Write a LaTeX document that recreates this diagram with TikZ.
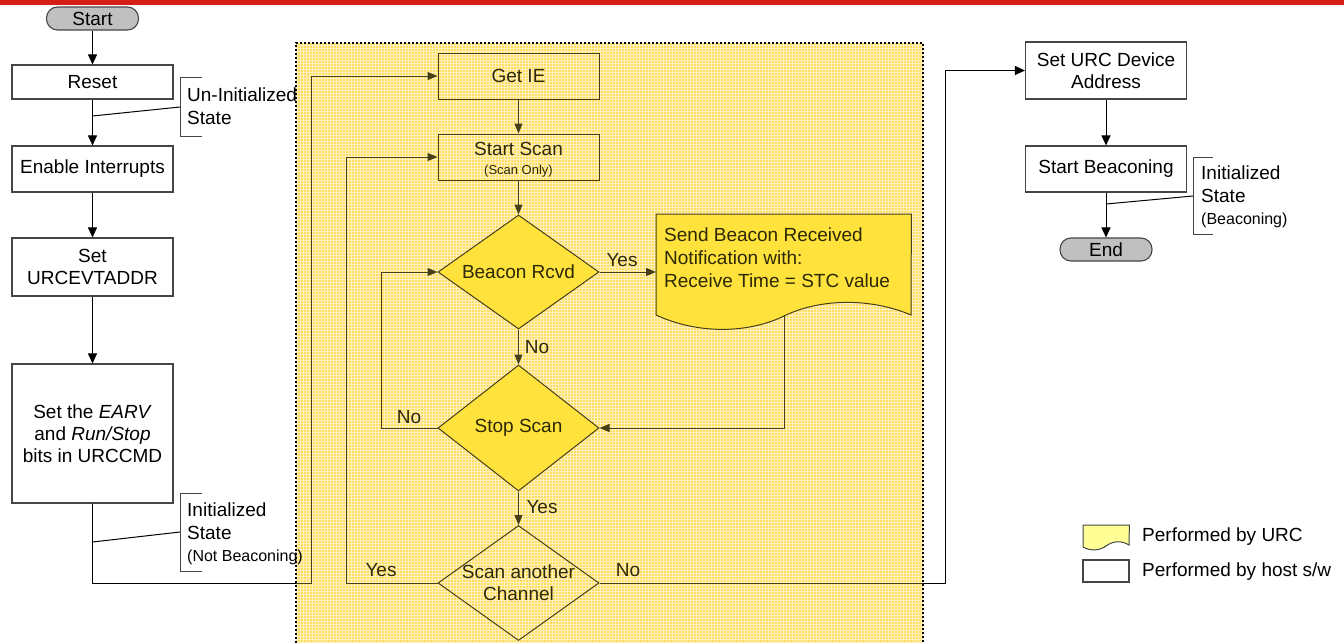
\documentclass[tikz,border=0pt]{standalone}
\usepackage{fontspec}
\setmainfont{Liberation Sans}
\usetikzlibrary{arrows.meta,shapes.geometric}
\definecolor{redbar}{RGB}{215,30,20}
\definecolor{bgyel}{RGB}{255,222,95}
\definecolor{diayel}{RGB}{255,226,60}
\definecolor{olive}{RGB}{70,62,20}
\definecolor{olivetext}{RGB}{45,40,5}
\definecolor{boxgray}{RGB}{70,70,70}
\definecolor{pillgray}{RGB}{192,192,192}
\definecolor{legyel}{RGB}{255,255,150}
\begin{document}
\begin{tikzpicture}[x=1pt,y=-1pt, font=\fontsize{19}{22}\selectfont,
 hostbox/.style={draw=boxgray, line width=1.1pt, fill=white, inner sep=0pt, align=center},
 pill/.style={draw=boxgray, line width=1.1pt, fill=pillgray, rounded corners=11pt, inner sep=0pt, minimum width=92pt, minimum height=23pt},
 urcbox/.style={draw=olive, line width=1pt, inner sep=0pt, align=center, text=olivetext},
 urcdia/.style={diamond, draw=olive, line width=1pt, inner sep=0pt, minimum width=161pt, minimum height=114pt, shape aspect=1.41},
 hostarr/.style={draw=black, line width=1pt, -{Triangle[length=10pt,width=9pt]}},
 urcarr/.style={draw=olive, line width=1pt, -{Triangle[length=10pt,width=8pt]}},
 urcline/.style={draw=olive, line width=1pt},
 hostline/.style={draw=black, line width=1pt},
 brack/.style={draw=boxgray, line width=1pt},
 lbl/.style={text=olivetext, inner sep=0pt},
 note/.style={inner sep=0pt, align=left, anchor=north west, font=\fontsize{19}{23}\selectfont},
]
\useasboundingbox (0,0) rectangle (1344,643);
\fill[white] (0,0) rectangle (1344,643);
\fill[redbar] (0,0) rectangle (1344,4.5);

% URC region background
\fill[bgyel] (296,43) rectangle (923,643);
\begin{scope}
\clip (296,43) rectangle (923,643);
\draw[white, opacity=0.6, line width=0.8pt, step=3pt] (296,43) grid (923,643);
\end{scope}

% host nodes (left)
\node[pill] (start) at (92.5,18.5) {Start};
\node[hostbox, minimum width=161pt, minimum height=34pt] (reset) at (92.5,82) {Reset};
\node[hostbox, minimum width=161pt, minimum height=46pt] (enable) at (92.5,169) {Enable Interrupts};
\node[hostbox, minimum width=161pt, minimum height=58pt] (setevt) at (92.5,267) {Set\\URCEVTADDR};
\node[hostbox, minimum width=161pt, minimum height=139pt] (earv) at (92.5,433.5) {Set the \textit{EARV}\\and \textit{Run/Stop}\\bits in URCCMD};

% host nodes (right)
\node[hostbox, minimum width=161pt, minimum height=57pt] (seturc) at (1106,70.5) {Set URC Device\\Address};
\node[hostbox, minimum width=161pt, minimum height=46pt] (startb) at (1106,169) {Start Beaconing};
\node[pill] (end) at (1106,249.5) {End};

% URC nodes
\node[urcbox, minimum width=161pt, minimum height=46pt] (getie) at (518.5,76) {Get IE};
\node[urcbox, minimum width=161pt, minimum height=46pt, label={[lbl,align=center,yshift=-2.5pt]center:Start Scan\\[-3pt]{\fontsize{13}{15}\selectfont (Scan Only)}}] (scan) at (518.5,157) {};
\node[urcdia, fill=diayel, label={[lbl]center:Beacon Rcvd}] (br) at (518.5,272) {};
\node[urcdia, fill=diayel, minimum height=126pt, label={[lbl]center:Stop Scan}] (stop) at (518.5,428) {};
\node[urcdia, minimum height=115pt, label={[lbl,align=center]center:Scan another\\Channel}] (another) at (518.5,583) {};

% document shape
\node[inner sep=0pt, minimum width=255pt, minimum height=103pt, anchor=north west] (doc) at (656,214) {};
\filldraw[fill=diayel, draw=olive, line width=1pt] (doc.north west) -- (doc.north east) -- (911,315)
  .. controls (871,298) and (821,298) .. (784,316)
  .. controls (747,334) and (697,334) .. (656,315) -- cycle;
\node[lbl, note] (doctxt) at (664,228) {Send Beacon Received\\Notification with:\\Receive Time = STC value};
\coordinate (docb) at (784,316);

% host connectors
\draw[hostarr] (start.south) -- (reset.north);
\draw[hostarr] (reset.south) -- (enable.north);
\draw[hostarr] (enable.south) -- (setevt.north);
\draw[hostarr] (setevt.south) -- (earv.north);
\draw[hostarr] (seturc.south) -- (startb.north);
\draw[hostarr] (startb.south) -- (end.north);

\coordinate (c0) at (296,583);
\coordinate (c1) at (311,583);
\draw[hostline] (earv.south) |- (c0);
\draw[urcarr] (c0) -- (c1) |- (getie.west);

% URC connectors
\draw[urcarr] (getie.south) -- (scan.north);
\draw[urcarr] (scan.south) -- (br.north);
\draw[urcarr] (br.east) -- (br.east -| doc.west);
\draw[urcarr] (br.south) -- (stop.north);
\draw[urcarr] (docb) |- (stop.east);
\coordinate (c2) at (381,428);
\draw[urcarr] (stop.west) -- (c2) |- (br.west);
\draw[urcarr] (stop.south) -- (another.north);
\coordinate (c4) at (346,583);
\draw[urcarr] (another.west) -- (c4) |- (scan.west);
\coordinate (c3) at (923,583);
\coordinate (c5) at (945,583);
\draw[urcline] (another.east) -- (c3);
\draw[hostarr] (c3) -- (c5) |- (seturc.west);

% labels
\node[lbl] (yes1) at (622,260) {Yes};
\node[lbl] (no1) at (537,347) {No};
\node[lbl] (no2) at (409,417) {No};
\node[lbl] (yes2) at (542,507) {Yes};
\node[lbl] (yes3) at (381,570) {Yes};
\node[lbl] (no3) at (628,570) {No};

% brackets and state notes
\draw[brack] (202,77) -- (180,77) -- (180,136) -- (202,136);
\coordinate (j1) at (92.5,116);
\coordinate (k1) at (180,107);
\draw[hostline] (j1) -- (k1);
\node[note] (uninit) at (187,88) {Un-Initialized\\State};

\draw[brack] (202,493) -- (180,493) -- (180,571) -- (202,571);
\coordinate (j2) at (92.5,542);
\coordinate (k2) at (180,532);
\draw[hostline] (j2) -- (k2);
\node[note] (init1) at (187,503) {Initialized\\State\\[-1pt]{\fontsize{16}{19}\selectfont (Not Beaconing)}};

\draw[brack] (1213,157) -- (1193,157) -- (1193,234) -- (1213,234);
\coordinate (j3) at (1106,204);
\coordinate (k3) at (1193,196);
\draw[hostline] (j3) -- (k3);
\node[note] (init2) at (1201,166) {Initialized\\State\\[-1pt]{\fontsize{16}{19}\selectfont (Beaconing)}};

% dotted border of URC region
\draw[black, line width=1.8pt, dash pattern=on 1.6pt off 2.4pt] (296,643) -- (296,43) -- (923,43) -- (923,643);

% legend
\node[inner sep=0pt, minimum width=46pt, minimum height=24pt, anchor=north west] (leg1) at (1083,525) {};
\filldraw[fill=legyel, draw=boxgray, line width=1pt] (leg1.north west) -- (leg1.north east) -- (1129,545)
  .. controls (1121,540) and (1113,541) .. (1106,546)
  .. controls (1099,551) and (1090,551) .. (1083,547) -- cycle;
\node[hostbox, minimum width=46pt, minimum height=22pt] (leg2) at (1106,571) {};
\node[inner sep=0pt, anchor=west] (legt1) at (1142,537) {Performed by URC};
\node[inner sep=0pt, anchor=west] (legt2) at (1142,572) {Performed by host s/w};
\end{tikzpicture}
\end{document}
